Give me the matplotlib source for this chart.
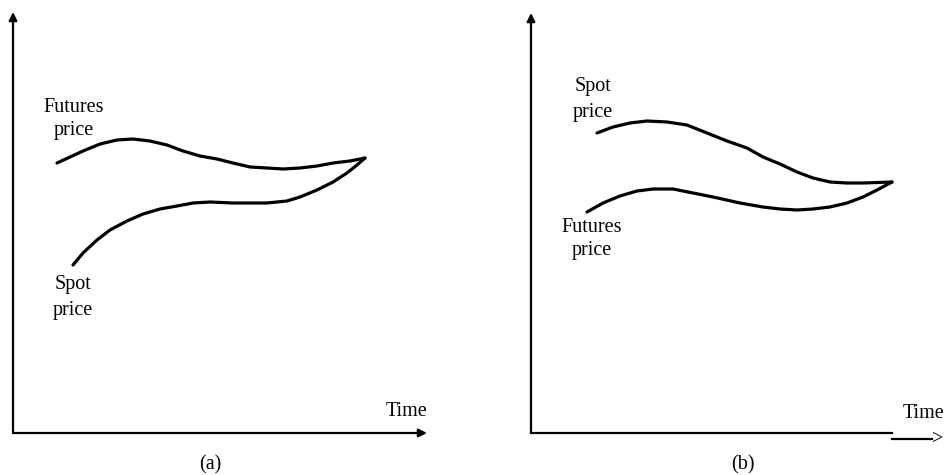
import numpy as np
import matplotlib
matplotlib.use('Agg')
import matplotlib.pyplot as plt

plt.rcParams['font.family'] = ['Liberation Serif', 'DejaVu Serif']

'''------DATA (panel a)------'''
a_fut_x = [44, 57, 70, 87, 104, 120, 137, 154, 170, 187, 204, 220, 237, 254, 270, 287, 304, 320, 337, 352]
a_fut_y = [270, 276, 282, 289, 293, 294, 292, 288, 282, 277, 274, 270, 266, 265, 264, 265, 267, 270, 272, 275]
a_spot_x = [60, 70, 84, 97, 114, 130, 147, 164, 180, 197, 220, 254, 274, 287, 304, 320, 334, 344, 352]
a_spot_y = [168, 180, 193, 203, 212, 219, 224, 227, 230, 231, 230, 230, 232, 236, 243, 251, 260, 268, 275]

'''------DATA (panel b)------'''
b_spot_x = [66, 82, 99, 116, 136, 156, 176, 196, 216, 232, 249, 266, 282, 299, 316, 332, 361]
b_spot_y = [300, 306, 310, 312, 311, 308, 300, 292, 285, 276, 269, 261, 255, 251, 250, 250, 251]
b_fut_x = [56, 72, 89, 106, 122, 142, 162, 182, 209, 232, 249, 266, 282, 299, 316, 332, 346, 361]
b_fut_y = [221, 230, 237, 242, 244, 244, 240, 236, 230, 226, 224, 223, 224, 226, 230, 236, 243, 251]

W, H = 947, 475
fig = plt.figure(figsize=(W / 100, H / 100), dpi=100)

# axes placed so that one data unit is one pixel
ax_a = fig.add_axes([13 / W, 42 / H, 430 / W, 433 / H])
ax_a.set_xlim(0, 430)
ax_a.set_ylim(0, 433)
ax_b = fig.add_axes([531 / W, 42 / H, 416 / W, 433 / H])
ax_b.set_xlim(0, 416)
ax_b.set_ylim(0, 433)

for ax in (ax_a, ax_b):
    ax.axis('off')

arrow = dict(arrowstyle='-|>', mutation_scale=12, lw=1.6, color='k',
             shrinkA=0, shrinkB=0)
lbl = dict(fontsize=14.5, ha='center', va='center', color='k')
curve = dict(color='k', lw=2.3, solid_joinstyle='round', solid_capstyle='round')

# panel (a)
ax_a.annotate('', xy=(0, 421), xytext=(0, 0), arrowprops=arrow, annotation_clip=False)
ax_a.annotate('', xy=(414, 0), xytext=(0, 0), arrowprops=arrow, annotation_clip=False)
ax_a.plot(a_fut_x, a_fut_y, **curve)
ax_a.plot(a_spot_x, a_spot_y, **curve)
ax_a.text(61, 326, 'Futures', **lbl)
ax_a.text(61, 302, 'price', **lbl)
ax_a.text(60, 148, 'Spot', **lbl)
ax_a.text(60, 123, 'price', **lbl)
ax_a.text(394, 21, 'Time', **lbl)
ax_a.text(197, -32, '(a)', clip_on=False, **lbl)

# panel (b)
ax_b.annotate('', xy=(0, 420), xytext=(0, 0), arrowprops=arrow, annotation_clip=False)
ax_b.plot([0, 361], [0, 0], color='k', lw=1.6, clip_on=False)
ax_b.plot([361, 401], [-6, -6], color='k', lw=1.6, clip_on=False)
ax_b.text(401, -6, '>', fontsize=14.5, ha='left', va='center', clip_on=False)
ax_b.plot(b_spot_x, b_spot_y, **curve)
ax_b.plot(b_fut_x, b_fut_y, **curve)
ax_b.text(62, 346, 'Spot', **lbl)
ax_b.text(62, 321, 'price', **lbl)
ax_b.text(61, 206, 'Futures', **lbl)
ax_b.text(61, 182, 'price', **lbl)
ax_b.text(372, 19, 'Time', fontsize=14.5, ha='left', va='center', clip_on=False)
ax_b.text(212, -32, '(b)', clip_on=False, **lbl)

fig.savefig('out.png', dpi=100)
